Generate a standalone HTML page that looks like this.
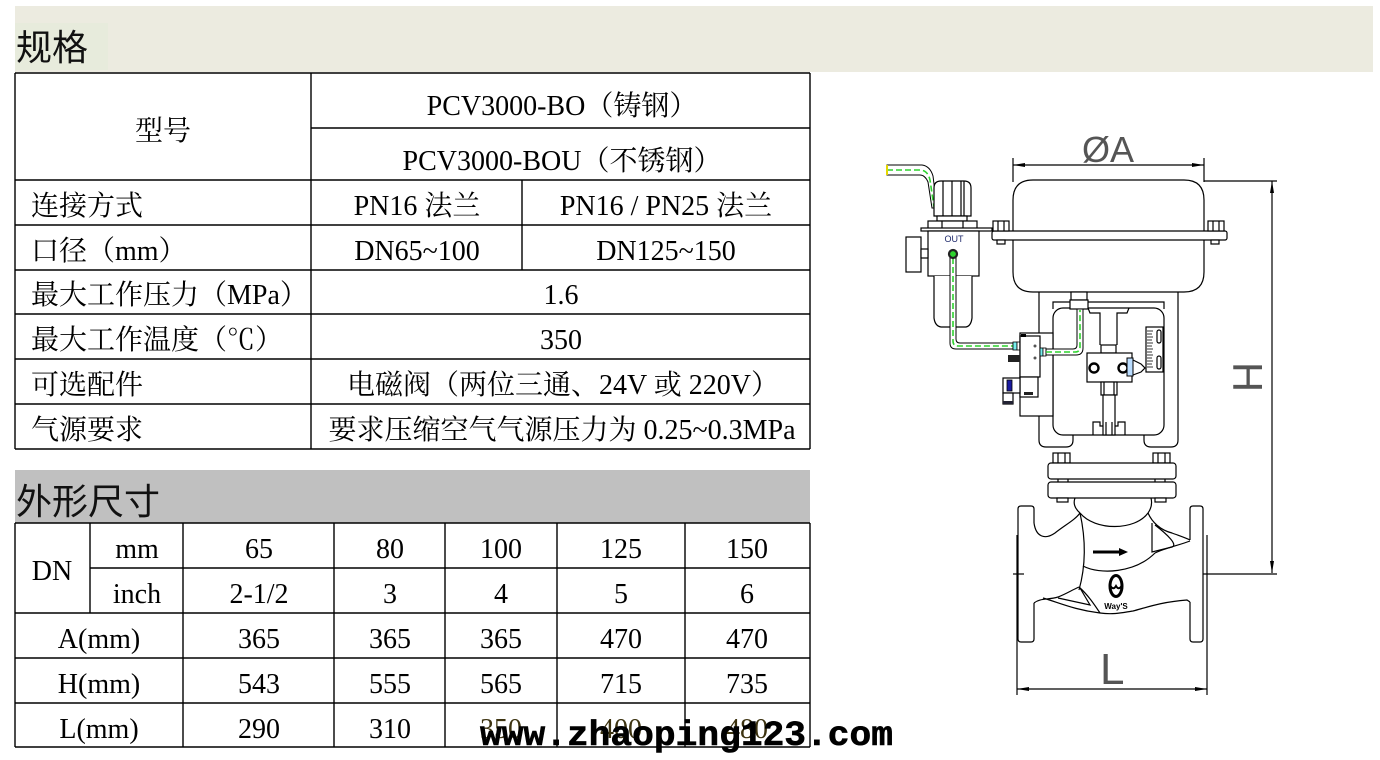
<!DOCTYPE html>
<html><head><meta charset="utf-8">
<style>
html,body{margin:0;padding:0;background:#fff;}
svg{display:block;}
.t{font-family:"Liberation Serif","Noto Serif CJK SC",serif;font-size:28px;fill:#000;}
.h{font-family:"Liberation Sans","Noto Sans CJK SC",sans-serif;font-size:36px;fill:#111;}
.d{stroke:#000;stroke-width:1.2;fill:none;}
.df{stroke:#000;stroke-width:1.2;fill:#fff;}
.g{stroke:#2fd42f;stroke-width:1.6;fill:none;stroke-dasharray:6 3;}
</style></head>
<body>
<svg width="1380" height="760" viewBox="0 0 1380 760" xmlns="http://www.w3.org/2000/svg">
<!-- header band -->
<rect x="15" y="6" width="1358" height="66" fill="#ecebe0"/>
<rect x="15" y="23" width="93" height="47" fill="#e7ebdc"/>
<text class="h" x="16" y="60">规格</text>

<!-- table 1 lines -->
<g stroke="#000" stroke-width="1.4">
<line x1="15" y1="73" x2="810" y2="73"/>
<line x1="311" y1="128" x2="810" y2="128"/>
<line x1="15" y1="180" x2="810" y2="180"/>
<line x1="15" y1="225" x2="810" y2="225"/>
<line x1="15" y1="270" x2="810" y2="270"/>
<line x1="15" y1="314" x2="810" y2="314"/>
<line x1="15" y1="359" x2="810" y2="359"/>
<line x1="15" y1="404" x2="810" y2="404"/>
<line x1="15" y1="449" x2="810" y2="449"/>
<line x1="15" y1="73" x2="15" y2="449"/>
<line x1="311" y1="73" x2="311" y2="449"/>
<line x1="810" y1="73" x2="810" y2="449"/>
<line x1="522" y1="180" x2="522" y2="270"/>
</g>
<!-- table 1 text -->
<text class="t" x="163" y="140" text-anchor="middle">型号</text>
<text class="t" x="562" y="115" text-anchor="middle">PCV3000-BO（铸钢）</text>
<text class="t" x="562" y="170" text-anchor="middle">PCV3000-BOU（不锈钢）</text>
<text class="t" x="31" y="215">连接方式</text>
<text class="t" x="417" y="215" text-anchor="middle">PN16 法兰</text>
<text class="t" x="666" y="215" text-anchor="middle">PN16 / PN25 法兰</text>
<text class="t" x="31" y="260">口径（mm）</text>
<text class="t" x="417" y="260" text-anchor="middle">DN65~100</text>
<text class="t" x="666" y="260" text-anchor="middle">DN125~150</text>
<text class="t" x="31" y="304">最大工作压力（MPa）</text>
<text class="t" x="561" y="304" text-anchor="middle">1.6</text>
<text class="t" x="31" y="349">最大工作温度（℃）</text>
<text class="t" x="561" y="349" text-anchor="middle">350</text>
<text class="t" x="31" y="394">可选配件</text>
<text class="t" x="563" y="394" text-anchor="middle">电磁阀（两位三通、24V 或 220V）</text>
<text class="t" x="31" y="439">气源要求</text>
<text class="t" x="562" y="439" text-anchor="middle">要求压缩空气气源压力为 0.25~0.3MPa</text>

<!-- table 2 header -->
<rect x="15" y="470" width="795" height="53" fill="#c0c0c0"/>
<text class="h" x="16" y="514">外形尺寸</text>
<g stroke="#000" stroke-width="1.4">
<line x1="15" y1="523" x2="810" y2="523"/>
<line x1="90" y1="568" x2="810" y2="568"/>
<line x1="15" y1="613" x2="810" y2="613"/>
<line x1="15" y1="658" x2="810" y2="658"/>
<line x1="15" y1="703" x2="810" y2="703"/>
<line x1="15" y1="747" x2="810" y2="747"/>
<line x1="15" y1="523" x2="15" y2="747"/>
<line x1="90" y1="523" x2="90" y2="613"/>
<line x1="183" y1="523" x2="183" y2="747"/>
<line x1="334" y1="523" x2="334" y2="747"/>
<line x1="445" y1="523" x2="445" y2="747"/>
<line x1="557" y1="523" x2="557" y2="747"/>
<line x1="685" y1="523" x2="685" y2="747"/>
<line x1="810" y1="523" x2="810" y2="747"/>
</g>
<g>
<text class="t" x="52" y="580" text-anchor="middle">DN</text>
<text class="t" x="137" y="558" text-anchor="middle">mm</text>
<text class="t" x="137" y="603" text-anchor="middle">inch</text>
<text class="t" x="259" y="558" text-anchor="middle">65</text>
<text class="t" x="390" y="558" text-anchor="middle">80</text>
<text class="t" x="501" y="558" text-anchor="middle">100</text>
<text class="t" x="621" y="558" text-anchor="middle">125</text>
<text class="t" x="747" y="558" text-anchor="middle">150</text>
<text class="t" x="259" y="603" text-anchor="middle">2-1/2</text>
<text class="t" x="390" y="603" text-anchor="middle">3</text>
<text class="t" x="501" y="603" text-anchor="middle">4</text>
<text class="t" x="621" y="603" text-anchor="middle">5</text>
<text class="t" x="747" y="603" text-anchor="middle">6</text>
<text class="t" x="99" y="648" text-anchor="middle">A(mm)</text>
<text class="t" x="259" y="648" text-anchor="middle">365</text>
<text class="t" x="390" y="648" text-anchor="middle">365</text>
<text class="t" x="501" y="648" text-anchor="middle">365</text>
<text class="t" x="621" y="648" text-anchor="middle">470</text>
<text class="t" x="747" y="648" text-anchor="middle">470</text>
<text class="t" x="99" y="693" text-anchor="middle">H(mm)</text>
<text class="t" x="259" y="693" text-anchor="middle">543</text>
<text class="t" x="390" y="693" text-anchor="middle">555</text>
<text class="t" x="501" y="693" text-anchor="middle">565</text>
<text class="t" x="621" y="693" text-anchor="middle">715</text>
<text class="t" x="747" y="693" text-anchor="middle">735</text>
<text class="t" x="99" y="738" text-anchor="middle">L(mm)</text>
<text class="t" x="259" y="738" text-anchor="middle">290</text>
<text class="t" x="390" y="738" text-anchor="middle">310</text>
<text class="t" x="501" y="738" text-anchor="middle" style="fill:#3d3310">350</text>
<text class="t" x="621" y="738" text-anchor="middle" style="fill:#3d3310">400</text>
<text class="t" x="747" y="738" text-anchor="middle" style="fill:#3d3310">480</text>
</g>

<!-- ================= VALVE DRAWING ================= -->
<g class="d">
<line x1="1013" y1="165" x2="1204" y2="165"/>
<line x1="1013" y1="158" x2="1013" y2="182"/>
<line x1="1204" y1="158" x2="1204" y2="182"/>
<line x1="1204" y1="181" x2="1277" y2="181"/>
<line x1="1272" y1="181" x2="1272" y2="573"/>
<line x1="1203" y1="574" x2="1277" y2="574"/>
<line x1="1013" y1="574" x2="1024" y2="574"/>
<line x1="1017" y1="535" x2="1017" y2="695"/>
<line x1="1207" y1="535" x2="1207" y2="695"/>
<line x1="1017" y1="689" x2="1207" y2="689"/>
</g>
<polygon points="1013,165 1025,163 1025,167" fill="#000"/>
<polygon points="1204,165 1192,163 1192,167" fill="#000"/>
<polygon points="1272,181 1270,193 1274,193" fill="#000"/>
<polygon points="1272,573 1270,561 1274,561" fill="#000"/>
<polygon points="1017,689 1029,687 1029,691" fill="#000"/>
<polygon points="1207,689 1195,687 1195,691" fill="#000"/>
<text x="1108" y="162" text-anchor="middle" font-family="Liberation Sans, sans-serif" font-size="36" fill="#555">ØA</text>
<text x="1248" y="377" text-anchor="middle" font-family="Liberation Sans, sans-serif" font-size="42" fill="#555" transform="rotate(90 1248 377)" dy="15">H</text>
<text x="1100" y="684" font-family="Liberation Sans, sans-serif" font-size="44" fill="#555">L</text>

<!-- actuator -->
<path class="df" d="M1013,232 L1013,200 Q1013,180 1033,180 L1184,180 Q1204,180 1204,200 L1204,232"/>
<path class="df" d="M1013,240 L1013,272 Q1013,292 1033,292 L1184,292 Q1204,292 1204,272 L1204,240"/>
<rect class="df" x="992" y="231" width="235" height="9" rx="2"/>
<rect class="df" x="993" y="221" width="16" height="10"/>
<line class="d" x1="998" y1="221" x2="998" y2="231"/><line class="d" x1="1004" y1="221" x2="1004" y2="231"/>
<rect class="df" x="1208" y="221" width="16" height="10"/>
<line class="d" x1="1213" y1="221" x2="1213" y2="231"/><line class="d" x1="1219" y1="221" x2="1219" y2="231"/>
<rect class="df" x="997" y="240" width="8" height="4"/>
<rect class="df" x="1211" y="240" width="8" height="4"/>

<!-- yoke -->
<path class="d" d="M1039,292 L1039,440 Q1039,447 1046,447 L1066,447 Q1073,447 1073,440 L1073,435"/>
<path class="d" d="M1178,292 L1178,440 Q1178,447 1171,447 L1151,447 Q1144,447 1144,440 L1144,435"/>
<path class="d" d="M1053,309 L1053,302 L1164,302 L1164,309"/>
<rect class="d" x="1053" y="308" width="111" height="127" rx="10"/>
<rect class="df" x="1071" y="292" width="16" height="8"/>
<rect class="df" x="1070" y="300" width="18" height="9"/>
<path class="d" d="M1088,308 L1090,313 L1100,313 L1100,345"/>
<path class="d" d="M1129,308 L1127,313 L1117,313 L1117,345"/>
<rect class="df" x="1101" y="345" width="15" height="8"/>
<rect class="df" x="1087" y="353" width="45" height="29"/>
<circle cx="1094" cy="368" r="4.5" fill="#fff" stroke="#000" stroke-width="2.4"/>
<circle cx="1123" cy="368" r="4.5" fill="#fff" stroke="#000" stroke-width="2.4"/>
<rect x="1127" y="358" width="6" height="18" fill="#bdf" stroke="#000" stroke-width="1"/>
<path class="d" d="M1133,360 L1141,364 L1145,368 L1141,372 L1133,375"/>
<rect class="df" x="1146" y="327" width="17" height="45"/>
<g stroke="#000" stroke-width="0.8">
<line x1="1147" y1="331" x2="1153" y2="331"/><line x1="1147" y1="334" x2="1152" y2="334"/>
<line x1="1147" y1="337" x2="1153" y2="337"/><line x1="1147" y1="340" x2="1152" y2="340"/>
<line x1="1147" y1="343" x2="1153" y2="343"/><line x1="1147" y1="346" x2="1152" y2="346"/>
<line x1="1147" y1="349" x2="1153" y2="349"/><line x1="1147" y1="352" x2="1152" y2="352"/>
<line x1="1147" y1="355" x2="1153" y2="355"/><line x1="1147" y1="358" x2="1152" y2="358"/>
<line x1="1147" y1="361" x2="1153" y2="361"/><line x1="1147" y1="364" x2="1152" y2="364"/>
<line x1="1147" y1="367" x2="1153" y2="367"/>
</g>
<rect class="d" x="1157" y="330" width="4" height="13" rx="2"/>
<rect class="d" x="1157" y="356" width="4" height="13" rx="2"/>
<rect class="df" x="1101" y="382" width="16" height="13"/>
<line class="d" x1="1104" y1="382" x2="1104" y2="395"/><line class="d" x1="1114" y1="382" x2="1114" y2="395"/>
<rect class="df" x="1103" y="395" width="12" height="40"/>
<path class="d" d="M1093,435 L1093,422 L1100,422 L1100,426 L1103,426"/>
<path class="d" d="M1125,435 L1125,422 L1118,422 L1118,426 L1115,426"/>
<line class="d" x1="1106" y1="422" x2="1106" y2="435"/><line class="d" x1="1112" y1="422" x2="1112" y2="435"/>

<!-- filter regulator -->
<path d="M887,165 L922,165 Q930,166 933,176 L937,208 L932,208 L928,182 Q925,175 920,175 L887,175 Z" fill="#fff" stroke="#000" stroke-width="1"/>
<path class="g" d="M887,170 L921,170 Q928,171 930,180 L934,207"/>
<line x1="887" y1="165" x2="887" y2="175" stroke="#e6d800" stroke-width="2"/>
<path class="df" d="M934,216 L934,188 Q934,181 941,181 L964,181 Q971,181 971,188 L971,216 Z"/>
<g class="d"><line x1="943" y1="181" x2="943" y2="216"/><line x1="952" y1="181" x2="952" y2="216"/><line x1="961" y1="181" x2="961" y2="216"/><line x1="964" y1="181" x2="964" y2="216"/></g>
<rect class="df" x="937" y="216" width="30" height="5"/>
<rect class="df" x="928" y="221" width="49" height="8"/>
<line class="d" x1="942" y1="221" x2="942" y2="229"/><line class="d" x1="963" y1="221" x2="963" y2="229"/>
<rect class="df" x="921" y="228" width="71" height="3"/>
<rect class="df" x="928" y="231" width="51" height="45"/>
<text x="954" y="242" text-anchor="middle" font-family="Liberation Sans, sans-serif" font-size="9" fill="#1f2a6b">OUT</text>
<rect class="df" x="906" y="237" width="15" height="35"/>
<rect class="df" x="921" y="249" width="7" height="9"/>
<path class="df" d="M934,276 L934,318 Q935,326 941,327 L966,327 Q971,326 972,318 L972,276"/>
<path d="M950,257 L950,343 Q950,349 956,349 L1013,349 L1013,343 L960,343 Q956,343 956,339 L956,257 Z" fill="#fff" stroke="#000" stroke-width="1"/>
<path class="g" d="M953,258 L953,341 Q953,346 958,346 L1013,346"/>
<circle cx="953" cy="254" r="4" fill="#2fd42f" stroke="#222" stroke-width="2.2"/>
<rect x="1013" y="342" width="4" height="8" fill="#7ee" stroke="#000" stroke-width="0.8"/>
<rect x="1017" y="342" width="3" height="8" fill="#fff" stroke="#000" stroke-width="0.8"/>
<!-- solenoid -->
<rect class="df" x="1020" y="333" width="33" height="83"/>
<rect class="df" x="1020" y="336" width="20" height="41"/>
<rect x="1021" y="334" width="5" height="3" fill="#000"/>
<circle cx="1035" cy="346" r="1.5" fill="#555"/><circle cx="1035" cy="358" r="1.5" fill="#555"/>
<rect x="1008" y="355" width="12" height="7" fill="#222"/>
<rect class="df" x="1020" y="377" width="18" height="20"/>
<rect x="1024" y="392" width="9" height="3" fill="#222"/>
<rect class="df" x="1003" y="378" width="17" height="15"/>
<rect x="1007" y="380" width="5" height="11" fill="#1a1aa0" stroke="#000" stroke-width="0.8"/>
<rect class="df" x="1003" y="393" width="10" height="11"/>
<rect x="1003" y="401" width="10" height="3" fill="#223"/>
<rect x="1040" y="348" width="3" height="8" fill="#7ee" stroke="#000" stroke-width="0.8"/>
<rect x="1043" y="348" width="3" height="8" fill="#fff" stroke="#000" stroke-width="0.8"/>
<path d="M1046,349 L1073,349 Q1077,349 1077,345 L1077,309 L1083,309 L1083,348 Q1083,355 1076,355 L1046,355 Z" fill="#fff" stroke="#000" stroke-width="1"/>
<path class="g" d="M1046,352 L1075,352 Q1080,352 1080,347 L1080,310"/>

<!-- bonnet -->
<rect class="df" x="1053" y="453" width="17" height="10"/>
<line class="d" x1="1058" y1="453" x2="1058" y2="463"/><line class="d" x1="1065" y1="453" x2="1065" y2="463"/>
<rect class="df" x="1153" y="453" width="17" height="10"/>
<line class="d" x1="1158" y1="453" x2="1158" y2="463"/><line class="d" x1="1165" y1="453" x2="1165" y2="463"/>
<rect class="df" x="1048" y="463" width="128" height="16" rx="3"/>
<g class="d"><line x1="1058" y1="479" x2="1058" y2="482"/><line x1="1068" y1="479" x2="1068" y2="482"/><line x1="1155" y1="479" x2="1155" y2="482"/><line x1="1165" y1="479" x2="1165" y2="482"/></g>
<rect class="df" x="1048" y="482" width="128" height="16" rx="3"/>
<rect class="df" x="1057" y="498" width="11" height="4"/>
<rect class="df" x="1155" y="498" width="11" height="4"/>

<!-- body -->
<g class="d">
<path d="M1075,498 Q1072,506 1080,513"/>
<path d="M1151,498 Q1153,506 1148,513"/>
<path d="M1034,523 L1034,509 Q1034,506 1031,506 L1021,506 Q1018,506 1018,509 L1018,639 Q1018,642 1021,642 L1031,642 Q1034,642 1034,639 L1034,603"/>
<path d="M1190,540 L1190,509 Q1190,506 1193,506 L1200,506 Q1203,506 1203,509 L1203,639 Q1203,642 1200,642 L1193,642 Q1190,642 1190,639 L1190,602"/>
<path d="M1034,523 C1036,537 1045,540 1055,533 C1065,525 1075,520 1080,513"/>
<path d="M1080,513 C1095,531 1135,531 1148,513"/>
<path d="M1148,513 C1152,522 1160,530 1172,533 C1180,536 1186,538 1190,540"/>
<path d="M1152,523 L1152,552 L1172,547 C1178,545 1168,535 1155,525"/>
<path d="M1080,513 C1086,540 1086,565 1079,590"/>
<path d="M1083,566 C1100,575 1135,573 1155,553 C1165,548 1180,545 1190,541"/>
<path d="M1034,603 C1040,598 1048,600 1058,597 C1066,594 1072,590 1079,587"/>
<path d="M1043,598 C1060,603 1075,610 1100,613 C1115,615 1125,612 1133,611 C1145,608 1160,602 1187,600 L1190,602"/>
<path d="M1079,587 C1088,595 1094,604 1100,613"/>
<path d="M1058,598 L1090,605 L1080,588"/>
</g>
<line x1="1093" y1="552" x2="1120" y2="552" stroke="#000" stroke-width="3"/>
<polygon points="1119,548 1128,552 1119,556" fill="#000"/>
<ellipse cx="1116" cy="586" rx="6" ry="10.5" fill="none" stroke="#000" stroke-width="3"/>
<path d="M1110,585 Q1113,591 1116,586 Q1119,591 1122,585" fill="none" stroke="#000" stroke-width="2"/>
<text x="1116" y="609" text-anchor="middle" font-family="Liberation Sans, sans-serif" font-size="8" font-weight="bold" fill="#000">Way'S</text>

<!-- watermark -->
<text x="480" y="745" font-family="Liberation Mono, monospace" font-size="35" font-weight="bold" fill="#000" stroke="#000" stroke-width="0.6" textLength="413" lengthAdjust="spacingAndGlyphs">www.zhaoping123.com</text>
</svg>
</body></html>
